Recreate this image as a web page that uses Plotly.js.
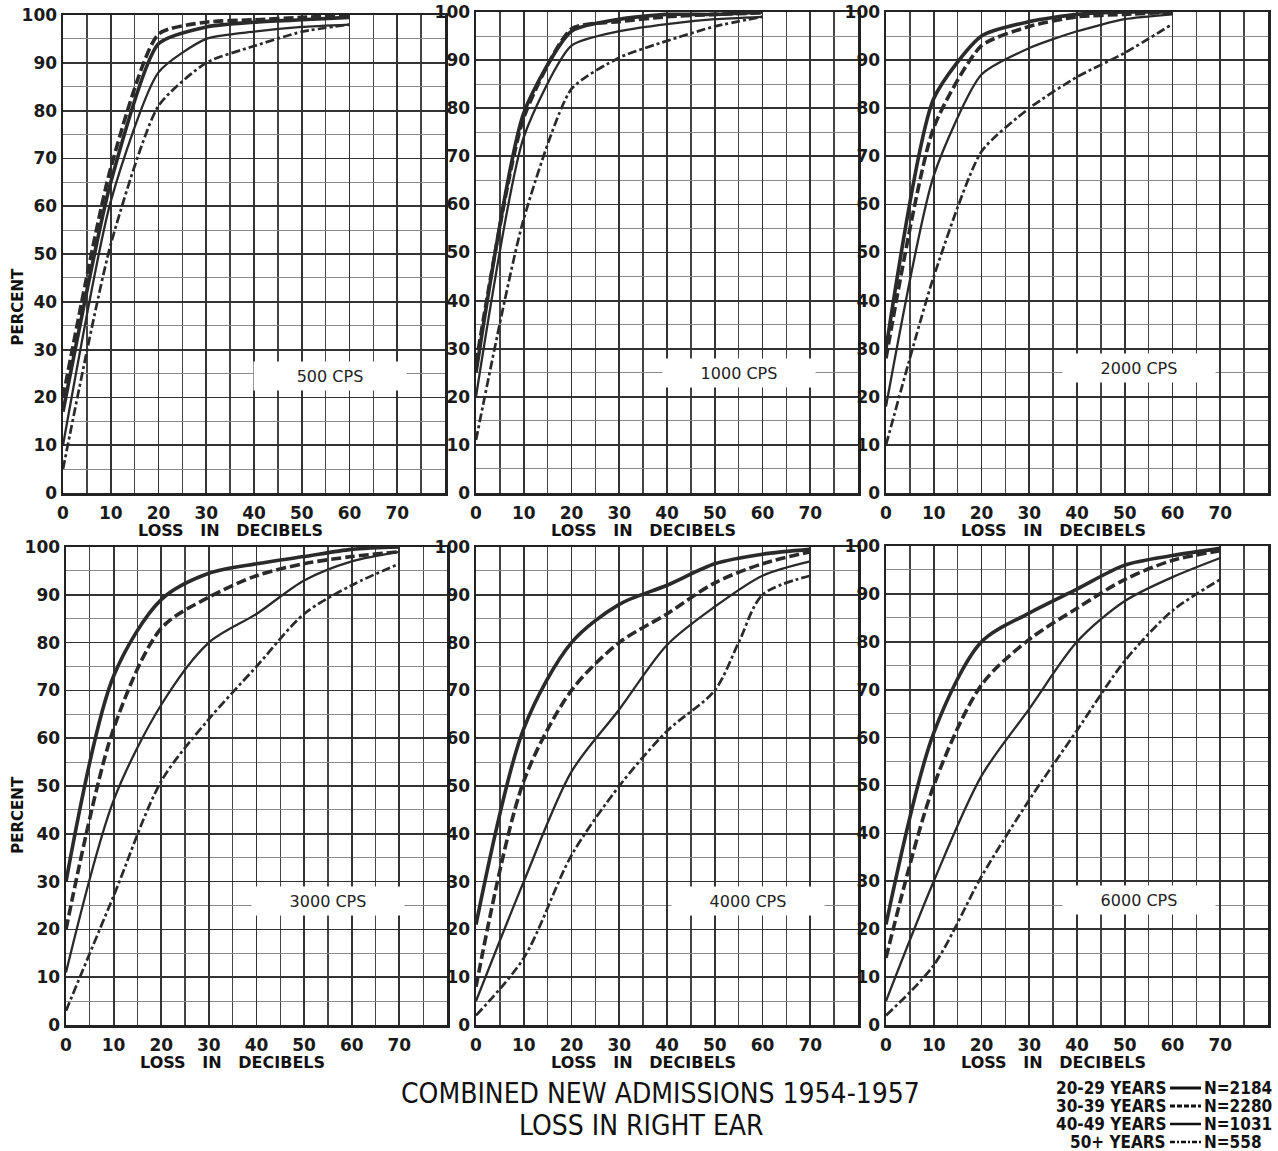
<!DOCTYPE html>
<html>
<head>
<meta charset="utf-8">
<script src="https://cdn.plot.ly/plotly-3.0.1.min.js"></script>
<style>html,body{margin:0;padding:0;background:#fff;}#chart{width:1278px;height:1151px;}</style>
</head>
<body>
<div id="chart"></div>
<script>
// ---------- DATA ----------
const xTop = [0, 10, 20, 30, 40, 50, 60];
const xBottom = [0, 10, 20, 30, 40, 50, 60, 70];
const x4000Over50 = [0, 10, 20, 30, 40, 50, 55, 60, 70];

const seriesNames = ["20-29 YEARS", "30-39 YEARS", "40-49 YEARS", "50+ YEARS"];
const seriesN = ["N=2184", "N=2280", "N=1031", "N=558"];
const panelLabels = ["500 CPS", "1000 CPS", "2000 CPS", "3000 CPS", "4000 CPS", "6000 CPS"];

// 500 CPS
const cps500_20 = [17, 65, 94, 97.5, 98.5, 99, 99.5];
const cps500_30 = [20, 68, 96, 98.5, 99, 99.5, 100];
const cps500_40 = [10, 61, 88, 95, 96.5, 97.5, 98];
const cps500_50 = [5, 52, 81, 90, 93.5, 96.5, 98];
// 1000 CPS
const cps1000_20 = [25, 79, 96, 98.5, 99.5, 99.5, 100];
const cps1000_30 = [27, 78, 96.5, 98, 99, 99.5, 99.8];
const cps1000_40 = [20, 74, 93, 96, 97.5, 98.5, 99];
const cps1000_50 = [11, 57, 84, 90.5, 94, 97, 99];
// 2000 CPS
const cps2000_20 = [30, 82, 95, 98, 99.5, 100, 100];
const cps2000_30 = [28, 76, 93, 97, 99, 99.5, 100];
const cps2000_40 = [18, 66, 87, 92.5, 96, 98.5, 99.5];
const cps2000_50 = [10, 45, 71, 80, 86.5, 91.5, 97.5];
// 3000 CPS
const cps3000_20 = [30, 73, 89, 94.5, 96.5, 98, 99.5, 100];
const cps3000_30 = [20, 62, 83, 89.5, 94, 96.5, 98, 99];
const cps3000_40 = [11, 47, 67, 80, 86, 93, 97, 99];
const cps3000_50 = [3, 27, 51, 64, 75, 86, 92, 96.5];
// 4000 CPS
const cps4000_20 = [21, 62, 80, 88, 92, 96.5, 98.5, 99.5];
const cps4000_30 = [8, 51, 70, 80, 86, 92.5, 96.5, 99];
const cps4000_40 = [5, 30, 53, 66, 79.5, 87.5, 94, 97];
const cps4000_50 = [2, 14, 35.5, 50, 61.5, 70, 80, 90, 94];
// 6000 CPS
const cps6000_20 = [21, 61, 80, 86, 91, 96, 98, 99.5];
const cps6000_30 = [14, 50, 71, 80.5, 87, 93, 97, 99];
const cps6000_40 = [5, 30, 52, 66, 80, 88.5, 93.5, 97.5];
const cps6000_50 = [2, 12.5, 31, 47, 61.5, 76, 86.5, 93];

const xTickVals = [0, 10, 20, 30, 40, 50, 60, 70];
const yTickVals = [0, 10, 20, 30, 40, 50, 60, 70, 80, 90, 100];

// ---------- BUILD ----------
const panels = [
  {x: [xTop, xTop, xTop, xTop], y: [cps500_20, cps500_30, cps500_40, cps500_50]},
  {x: [xTop, xTop, xTop, xTop], y: [cps1000_20, cps1000_30, cps1000_40, cps1000_50]},
  {x: [xTop, xTop, xTop, xTop], y: [cps2000_20, cps2000_30, cps2000_40, cps2000_50]},
  {x: [xBottom, xBottom, xBottom, xBottom], y: [cps3000_20, cps3000_30, cps3000_40, cps3000_50]},
  {x: [xBottom, xBottom, xBottom, x4000Over50], y: [cps4000_20, cps4000_30, cps4000_40, cps4000_50]},
  {x: [xBottom, xBottom, xBottom, xBottom], y: [cps6000_20, cps6000_30, cps6000_40, cps6000_50]}
];

const ink = '#2a2a2a';
const styles = [
  {width: 3.6, dash: 'solid'},
  {width: 3.6, dash: '10px,4px'},
  {width: 2.3, dash: 'solid'},
  {width: 2.7, dash: '9px,3px,3px,3px'}
];

const W = 1278, H = 1151;
const px = v => v / W;
const py = v => 1 - v / H;

// panel pixel boxes [left, right, top, bottom]
const boxes = [
  [63, 445, 15, 493],
  [476, 858, 12, 493],
  [886, 1268, 12, 493],
  [66, 447, 547, 1025],
  [476, 858, 547, 1025],
  [886, 1268, 546, 1025]
];

const traces = [];
const layout = {
  width: W, height: H,
  margin: {l: 0, r: 0, t: 0, b: 0},
  paper_bgcolor: '#ffffff',
  plot_bgcolor: '#ffffff',
  showlegend: false,
  annotations: [],
  shapes: [],
  font: {family: 'DejaVu Sans', color: ink}
};

const tickFont = {family: 'DejaVu Sans', size: 17, color: '#1a1a1a', weight: 'bold'};

panels.forEach((p, i) => {
  const n = i + 1;
  const xa = 'x' + (n === 1 ? '' : n);
  const ya = 'y' + (n === 1 ? '' : n);
  const smooth = i < 3 ? 0.6 : 0.85;
  for (let s = 0; s < 4; s++) {
    traces.push({
      type: 'scatter', mode: 'lines',
      x: p.x[s], y: p.y[s],
      xaxis: xa, yaxis: ya,
      name: seriesNames[s],
      line: {color: ink, width: styles[s].width, dash: styles[s].dash, shape: 'spline', smoothing: smooth},
      hoverinfo: 'skip'
    });
  }
  const b = boxes[i];
  layout['xaxis' + (n === 1 ? '' : n)] = {
    domain: [px(b[0]), px(b[1])],
    anchor: ya,
    range: [0, 80],
    tickvals: xTickVals,
    ticks: '', ticklabelstandoff: 3,
    tickfont: tickFont,
    showgrid: true, gridcolor: '#333', gridwidth: 1.8,
    minor: {dtick: 5, showgrid: true, gridcolor: '#444', gridwidth: 1.3},
    showline: true, mirror: true, linecolor: '#222', linewidth: 2.5,
    zeroline: false, fixedrange: true
  };
  layout['yaxis' + (n === 1 ? '' : n)] = {
    domain: [py(b[3]), py(b[2])],
    anchor: xa,
    range: [0, 100],
    tickvals: yTickVals,
    ticks: '', ticklabelstandoff: 0,
    tickfont: tickFont,
    showgrid: true, gridcolor: '#333', gridwidth: 1.8,
    minor: {dtick: 5, showgrid: true, gridcolor: '#8a8a8a', gridwidth: 1},
    showline: true, mirror: true, linecolor: '#222', linewidth: 2.5,
    zeroline: false, fixedrange: true
  };
  // x axis title
  layout.annotations.push({
    text: 'LOSS\u00a0\u00a0\u00a0IN\u00a0\u00a0\u00a0DECIBELS',
    xref: xa, x: 35, yref: 'paper', y: py(b[3] + 37),
    showarrow: false, xanchor: 'center', yanchor: 'middle',
    font: {family: 'DejaVu Sans', size: 16, weight: 'bold', color: '#111'}
  });
  // panel label
  const lblPos = [[56, 24.5], [55, 25], [53, 26], [55, 26], [57, 26], [53, 26]][i];
  layout.annotations.push({
    text: panelLabels[i],
    xref: xa, yref: ya, x: lblPos[0], y: lblPos[1],
    showarrow: false, xanchor: 'center', yanchor: 'middle',
    bgcolor: '#ffffff', width: 150, height: 26,
    font: {family: 'DejaVu Sans', size: 16, color: '#222'}
  });
});

// PERCENT labels
[[1, 39], [4, 44]].forEach(([n, yv]) => {
  layout.annotations.push({
    text: 'PERCENT', textangle: -90,
    xref: 'paper', x: px(18), yref: 'y' + (n === 1 ? '' : n), y: yv,
    showarrow: false, xanchor: 'center', yanchor: 'middle',
    font: {family: 'DejaVu Sans', size: 15, weight: 'bold', color: '#111'}
  });
});

// Main titles
const titleFont = {family: 'DejaVu Sans Condensed, DejaVu Sans', size: 28, color: '#111'};
layout.annotations.push({
  text: 'COMBINED NEW ADMISSIONS 1954-1957',
  xref: 'paper', yref: 'paper', x: px(660), y: py(1093),
  showarrow: false, xanchor: 'center', yanchor: 'middle', font: titleFont
});
layout.annotations.push({
  text: 'LOSS IN RIGHT EAR',
  xref: 'paper', yref: 'paper', x: px(641), y: py(1125),
  showarrow: false, xanchor: 'center', yanchor: 'middle', font: titleFont
});

// Legend (text - line sample - N)
const legRows = [1088, 1106, 1124, 1142];
const legFont = {family: 'Liberation Sans Narrow, DejaVu Sans Condensed, Arial Narrow', size: 17, weight: 'bold', color: '#111'};
legRows.forEach((ry, s) => {
  layout.annotations.push({
    text: seriesNames[s], xref: 'paper', yref: 'paper', x: px(1168), y: py(ry),
    showarrow: false, xanchor: 'right', yanchor: 'middle', font: legFont
  });
  layout.annotations.push({
    text: seriesN[s], xref: 'paper', yref: 'paper', x: px(1202), y: py(ry),
    showarrow: false, xanchor: 'left', yanchor: 'middle', font: legFont
  });
  layout.shapes.push({
    type: 'line', xref: 'paper', yref: 'paper',
    x0: px(1170), x1: px(1201), y0: py(ry), y1: py(ry),
    line: {color: '#111', width: s < 2 ? 3 : 2.5, dash: ['solid', '5px,2px', 'solid', '5px,2px,2px,2px'][s]}
  });
});

Plotly.newPlot('chart', traces, layout, {staticPlot: true, displayModeBar: false});
</script>
</body>
</html>
